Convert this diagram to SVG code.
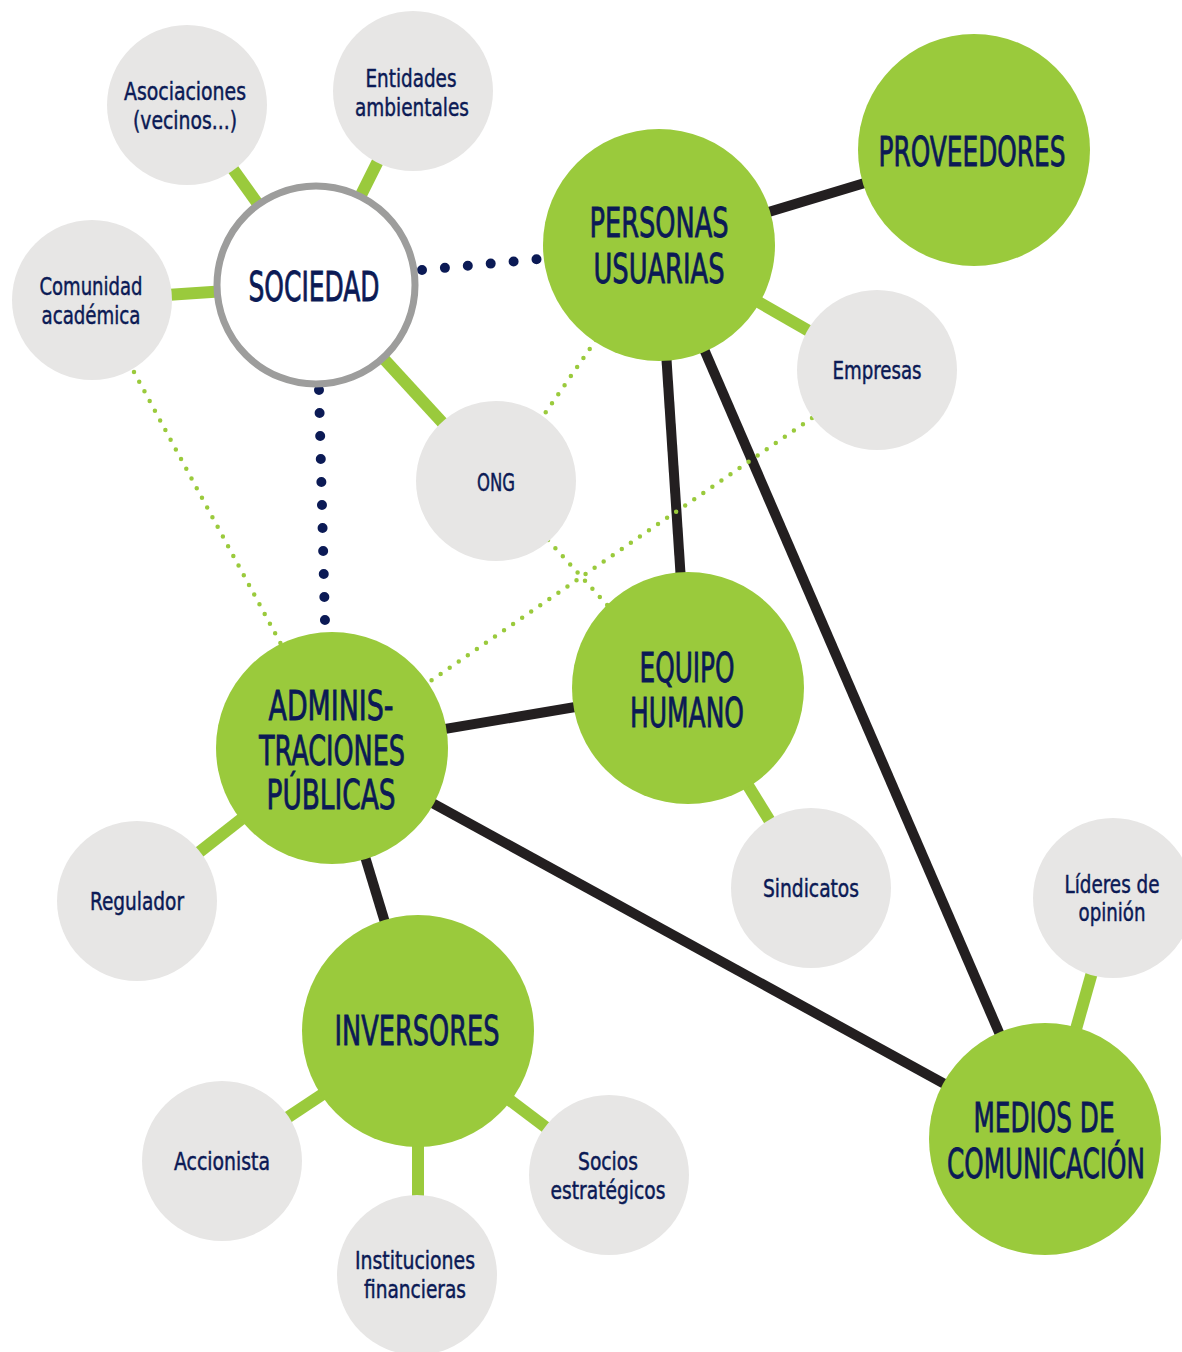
<svg xmlns="http://www.w3.org/2000/svg" width="1182" height="1352" viewBox="0 0 1182 1352">
<style>
.big{fill:#9aca3c}
.small{fill:#e7e6e5}
.soc{fill:#ffffff;stroke:#9d9d9c;stroke-width:7}
.g{stroke:#9aca3c;stroke-width:12;fill:none}
.k{stroke:#231f20;stroke-width:10;fill:none}
.nd{stroke:#0b1a55;stroke-width:10;stroke-linecap:round;stroke-dasharray:0 23;fill:none}
.gd{stroke:#9aca3c;stroke-width:4.5;stroke-linecap:round;stroke-dasharray:0 11;fill:none}
text{font-family:"DejaVu Sans Condensed","Liberation Sans Narrow","Liberation Sans",sans-serif;fill:#0b1a55;stroke:#0b1a55;text-anchor:middle}
.tb{font-size:40px;stroke-width:0.8}
.ts{font-size:24px;stroke-width:0.45}
</style>
<rect width="1182" height="1352" fill="#ffffff"/>
<g id="connectors">
<line class="g" x1="187" y1="105" x2="316" y2="285"/>
<line class="g" x1="413" y1="91" x2="316" y2="285"/>
<line class="g" x1="92" y1="300" x2="316" y2="285"/>
<line class="g" x1="316" y1="285" x2="496" y2="481"/>
<line class="g" x1="659" y1="245" x2="877" y2="370"/>
<line class="g" x1="688" y1="688" x2="811" y2="888"/>
<line class="g" x1="332" y1="748" x2="137" y2="901"/>
<line class="g" x1="418" y1="1031" x2="222" y2="1161"/>
<line class="g" x1="418" y1="1031" x2="418" y2="1275"/>
<line class="g" x1="418" y1="1031" x2="609" y2="1175"/>
<line class="g" x1="1045" y1="1139" x2="1113" y2="898"/>
<line class="k" x1="659" y1="245" x2="974" y2="150"/>
<line class="k" x1="659" y1="245" x2="688" y2="688"/>
<line class="k" x1="659" y1="245" x2="1045" y2="1139"/>
<line class="k" x1="332" y1="748" x2="688" y2="688"/>
<line class="k" x1="332" y1="748" x2="1045" y2="1139"/>
<line class="k" x1="332" y1="748" x2="418" y2="1031"/>
<line class="nd" x1="422" y1="270" x2="540" y2="259"/>
<line class="nd" x1="319" y1="390" x2="325" y2="622"/>
<line class="gd" x1="134" y1="372" x2="282" y2="646"/>
<line class="gd" x1="596" y1="340" x2="541" y2="419"/>
<line class="gd" x1="812" y1="418" x2="426" y2="684"/>
<line class="gd" x1="548" y1="540" x2="608" y2="606"/>
</g>
<g id="asociaciones"><circle class="small" cx="187" cy="105" r="80"/><text class="ts" x="185" y="100" textLength="122" lengthAdjust="spacingAndGlyphs">Asociaciones</text><text class="ts" x="185" y="129" textLength="104" lengthAdjust="spacingAndGlyphs">(vecinos...)</text></g>
<g id="entidades"><circle class="small" cx="413" cy="91" r="80"/><text class="ts" x="411" y="87" textLength="91" lengthAdjust="spacingAndGlyphs">Entidades</text><text class="ts" x="412" y="116" textLength="114" lengthAdjust="spacingAndGlyphs">ambientales</text></g>
<g id="comunidad"><circle class="small" cx="92" cy="300" r="80"/><text class="ts" x="91" y="295" textLength="103" lengthAdjust="spacingAndGlyphs">Comunidad</text><text class="ts" x="91" y="324" textLength="99" lengthAdjust="spacingAndGlyphs">académica</text></g>
<g id="sociedad"><circle class="soc" cx="316" cy="285" r="99"/><text class="tb" x="314" y="301" textLength="131" lengthAdjust="spacingAndGlyphs">SOCIEDAD</text></g>
<g id="personas"><circle class="big" cx="659" cy="245" r="116"/><text class="tb" x="659" y="237" textLength="139" lengthAdjust="spacingAndGlyphs">PERSONAS</text><text class="tb" x="659" y="283" textLength="131" lengthAdjust="spacingAndGlyphs">USUARIAS</text></g>
<g id="proveedores"><circle class="big" cx="974" cy="150" r="116"/><text class="tb" x="972" y="166" textLength="187" lengthAdjust="spacingAndGlyphs">PROVEEDORES</text></g>
<g id="empresas"><circle class="small" cx="877" cy="370" r="80"/><text class="ts" x="877" y="379" textLength="89" lengthAdjust="spacingAndGlyphs">Empresas</text></g>
<g id="ong"><circle class="small" cx="496" cy="481" r="80"/><text class="ts" x="496" y="491" textLength="38" lengthAdjust="spacingAndGlyphs">ONG</text></g>
<g id="equipo"><circle class="big" cx="688" cy="688" r="116"/><text class="tb" x="687" y="682" textLength="95" lengthAdjust="spacingAndGlyphs">EQUIPO</text><text class="tb" x="687" y="727" textLength="114" lengthAdjust="spacingAndGlyphs">HUMANO</text></g>
<g id="administraciones"><circle class="big" cx="332" cy="748" r="116"/><text class="tb" x="331" y="720" textLength="125" lengthAdjust="spacingAndGlyphs">ADMINIS-</text><text class="tb" x="332" y="765" textLength="146" lengthAdjust="spacingAndGlyphs">TRACIONES</text><text class="tb" x="331" y="809" textLength="129" lengthAdjust="spacingAndGlyphs">PÚBLICAS</text></g>
<g id="regulador"><circle class="small" cx="137" cy="901" r="80"/><text class="ts" x="137" y="910" textLength="94" lengthAdjust="spacingAndGlyphs">Regulador</text></g>
<g id="sindicatos"><circle class="small" cx="811" cy="888" r="80"/><text class="ts" x="811" y="897" textLength="96" lengthAdjust="spacingAndGlyphs">Sindicatos</text></g>
<g id="lideres"><circle class="small" cx="1113" cy="898" r="80"/><text class="ts" x="1112" y="893" textLength="95" lengthAdjust="spacingAndGlyphs">Líderes de</text><text class="ts" x="1112" y="921" textLength="67" lengthAdjust="spacingAndGlyphs">opinión</text></g>
<g id="inversores"><circle class="big" cx="418" cy="1031" r="116"/><text class="tb" x="417" y="1045" textLength="165" lengthAdjust="spacingAndGlyphs">INVERSORES</text></g>
<g id="medios"><circle class="big" cx="1045" cy="1139" r="116"/><text class="tb" x="1044" y="1132" textLength="141" lengthAdjust="spacingAndGlyphs">MEDIOS DE</text><text class="tb" x="1046" y="1178" textLength="198" lengthAdjust="spacingAndGlyphs">COMUNICACIÓN</text></g>
<g id="accionista"><circle class="small" cx="222" cy="1161" r="80"/><text class="ts" x="222" y="1170" textLength="96" lengthAdjust="spacingAndGlyphs">Accionista</text></g>
<g id="instituciones"><circle class="small" cx="417" cy="1275" r="80"/><text class="ts" x="415" y="1269" textLength="120" lengthAdjust="spacingAndGlyphs">Instituciones</text><text class="ts" x="415" y="1298" textLength="102" lengthAdjust="spacingAndGlyphs">financieras</text></g>
<g id="socios"><circle class="small" cx="609" cy="1175" r="80"/><text class="ts" x="608" y="1170" textLength="60" lengthAdjust="spacingAndGlyphs">Socios</text><text class="ts" x="608" y="1199" textLength="115" lengthAdjust="spacingAndGlyphs">estratégicos</text></g>
</svg>
